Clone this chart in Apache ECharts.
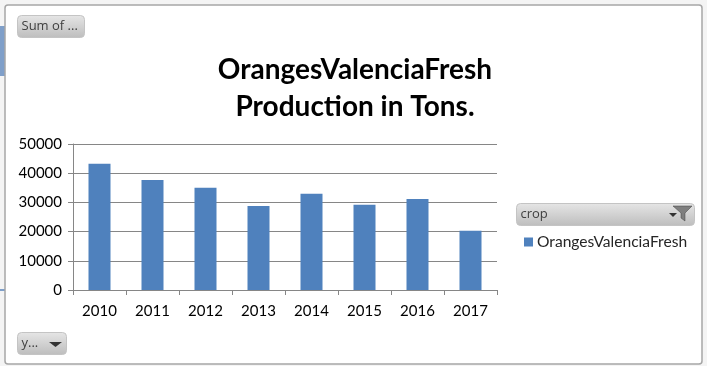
<!DOCTYPE html>
<html>
<head>
<meta charset="utf-8">
<style>
  html, body { margin: 0; padding: 0; background: #fff; }
  #chart { width: 707px; height: 366px; }
</style>
<script src="https://cdn.jsdelivr.net/npm/echarts@6/dist/echarts.min.js"></script>
</head>
<body>
<div id="chart"></div>
<script>
var years = ['2010', '2011', '2012', '2013', '2014', '2015', '2016', '2017'];
var production = [43200, 37700, 35000, 28800, 33000, 29200, 31200, 20300];
var seriesName = 'OrangesValenciaFresh';
var titleLines = 'OrangesValenciaFresh\nProduction in Tons.';
var fontFamily = 'Lato, "Open Sans", sans-serif';
var btnFont = '"Open Sans", "Noto Sans", sans-serif';
var color_blue = '#4f81bd';

var btnGradient = new echarts.graphic.LinearGradient(0, 0, 0, 1, [
  {offset: 0, color: '#e6e6e6'},
  {offset: 1, color: '#bdbdbd'}
]);

// bouton de champ de tableau croise
function fieldButton(x, y, w, h, label) {
  return [
    {type: 'rect', shape: {x: x, y: y, width: w, height: h, r: 4},
      style: {fill: btnGradient, stroke: '#c4c4c4', lineWidth: 1}},
    {type: 'text', x: x + 4, y: y + h / 2,
      style: {text: label, font: '13px ' + btnFont, fill: '#404040', verticalAlign: 'middle'}}
  ];
}

var chart = echarts.init(document.getElementById('chart'), null, {renderer: 'canvas'});

var decor = [
  // fond du classeur derriere la fenetre du graphique
  {type: 'rect', z: -10, shape: {x: 0, y: 0, width: 707, height: 366}, style: {fill: '#f4f4f4'}},
  {type: 'rect', z: -10, shape: {x: 0, y: 26, width: 5, height: 50}, style: {fill: '#7f9fc9'}},
  {type: 'rect', z: -10, shape: {x: 0, y: 289, width: 5, height: 2}, style: {fill: '#7f9fc9'}},
  {type: 'rect', z: -9, shape: {x: 5, y: 5, width: 697, height: 359, r: 3},
    style: {fill: '#ffffff', stroke: '#a6a6a6', lineWidth: 1.5}},
  // filtre
  {type: 'polygon', shape: {points: [[673, 206], [692, 206], [685, 213], [685, 221], [681, 218], [681, 213]]},
    z: 5, style: {fill: '#7f7f7f', stroke: '#404040', lineWidth: 0.5}},
  {type: 'polygon', shape: {points: [[669, 213], [677, 213], [673, 217]]}, z: 5, style: {fill: '#333333'}},
  {type: 'polygon', shape: {points: [[49, 342], [62, 342], [55.5, 347]]}, z: 5, style: {fill: '#333333'}}
].concat(fieldButton(17.5, 15.5, 67, 22, 'Sum of ...'))
 .concat(fieldButton(17.5, 332.5, 49, 22, 'y...'))
 .concat(fieldButton(516.5, 203.5, 178, 22, 'crop'));

var option = {
  animation: false,
  backgroundColor: 'transparent',
  title: {
    text: titleLines,
    left: 350,
    top: 46,
    textAlign: 'center',
    textStyle: {fontFamily: fontFamily, fontSize: 28, fontWeight: 'bold', color: '#000', lineHeight: 37}
  },
  legend: {
    left: 524,
    top: 234,
    itemWidth: 9,
    itemHeight: 9,
    itemGap: 0,
    icon: 'rect',
    padding: 0,
    textStyle: {fontFamily: fontFamily, fontSize: 15.6, color: '#262626', padding: [0, 0, 0, -1]},
    data: [seriesName]
  },
  grid: {left: 73, right: 210, top: 144, bottom: 76, containLabel: false},
  xAxis: {
    type: 'category',
    data: years,
    axisLine: {lineStyle: {color: '#868686', width: 1}},
    axisTick: {show: true, length: 5, alignWithLabel: false, lineStyle: {color: '#868686'}},
    axisLabel: {fontFamily: fontFamily, fontSize: 15, color: '#000', margin: 14}
  },
  yAxis: {
    type: 'value',
    min: 0,
    max: 50000,
    interval: 10000,
    axisLine: {show: true, lineStyle: {color: '#868686', width: 1}},
    axisTick: {show: true, length: 5, lineStyle: {color: '#868686'}},
    axisLabel: {
      fontFamily: fontFamily, fontSize: 15, color: '#000', margin: 11,
      formatter: function (value) { return String(value); }
    },
    splitLine: {lineStyle: {color: '#868686', width: 1}}
  },
  series: [{
    name: seriesName,
    type: 'bar',
    data: production,
    barWidth: 22,
    itemStyle: {color: color_blue}
  }],
  graphic: {elements: decor}
};

chart.setOption(option);
</script>
</body>
</html>
